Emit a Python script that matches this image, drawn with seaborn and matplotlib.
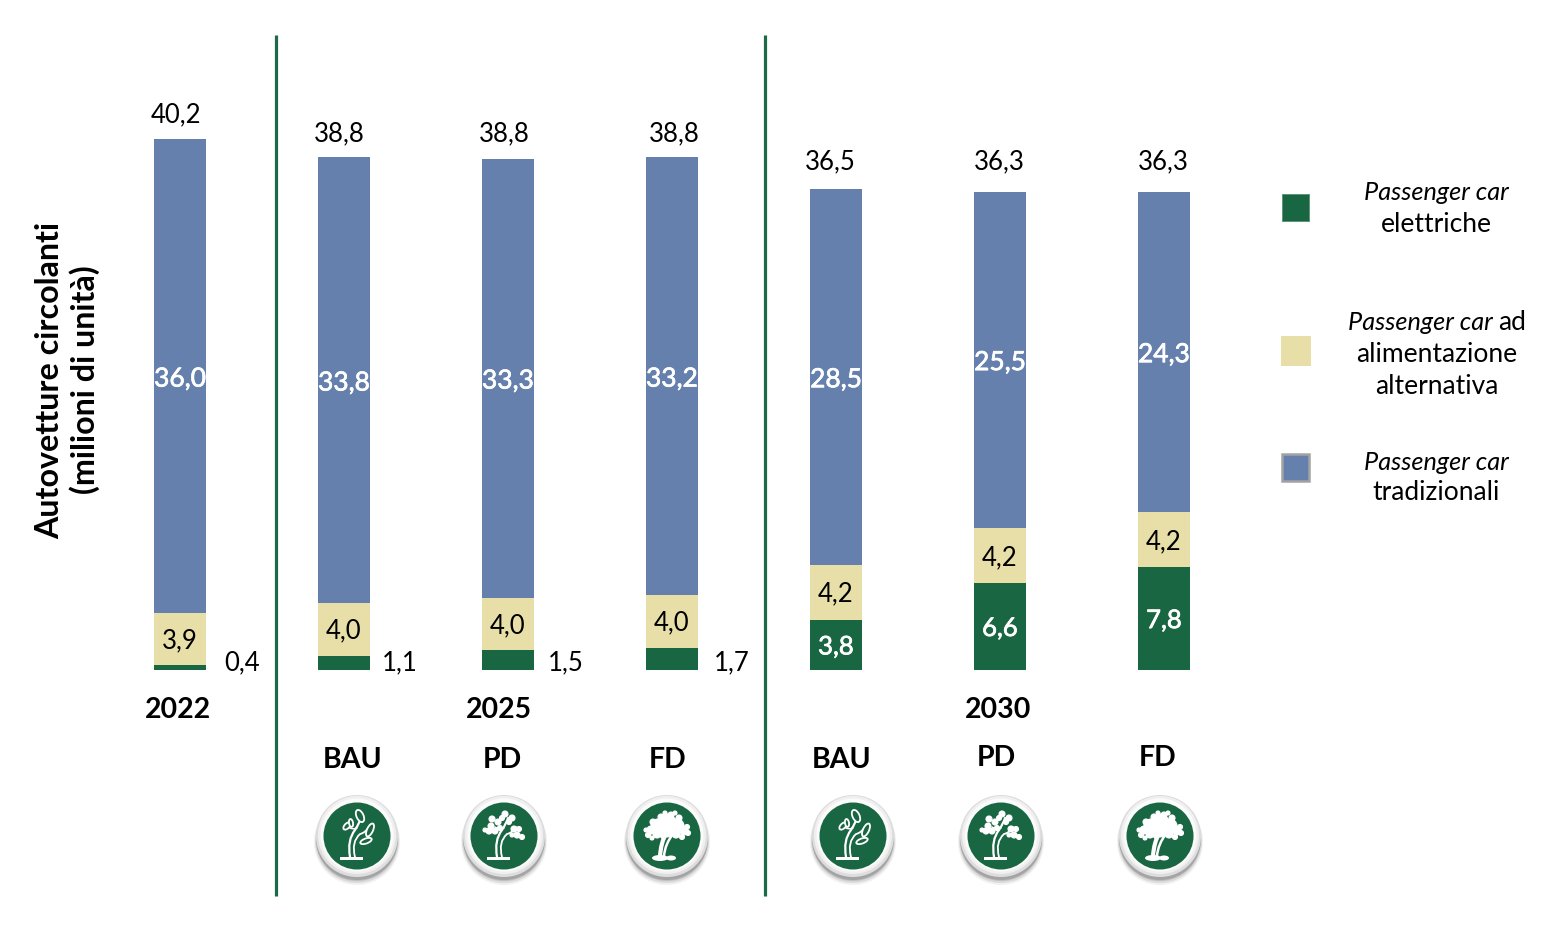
import matplotlib
matplotlib.use("Agg")
import matplotlib.pyplot as plt
import matplotlib.patheffects as pe
from matplotlib.patches import Circle, Ellipse, PathPatch, Rectangle
from matplotlib.path import Path
import pandas as pd
import seaborn as sns

# values (milioni di unita)
scenari = ["2022", "2025 BAU", "2025 PD", "2025 FD", "2030 BAU", "2030 PD", "2030 FD"]
elettriche = [0.4, 1.1, 1.5, 1.7, 3.8, 6.6, 7.8]
alternativa = [3.9, 4.0, 4.0, 4.0, 4.2, 4.2, 4.2]
tradizionali = [36.0, 33.8, 33.3, 33.2, 28.5, 25.5, 24.3]
totali = [40.2, 38.8, 38.8, 38.8, 36.5, 36.3, 36.3]

GREEN = "#196642"
KHAKI = "#E8DFA8"
BLUE = "#6580AC"
LINE = "#1B6B48"

W, H = 1548, 934
PX = 13.18  # px per unit
DOWN = 2 / PX  # labels sit a bit below the centre of their segment
THICK = [pe.withStroke(linewidth=0.5, foreground="white")]


def fmt(v):
    return f"{v:.1f}".replace(".", ",")


sns.set_theme(style="white")
plt.rcParams["font.family"] = ["Lato", "DejaVu Sans"]

df = pd.DataFrame({"scenario": scenari, "elettriche": elettriche,
                   "alternativa": alternativa, "tradizionali": tradizionali})
df["base_alt"] = df["elettriche"]
df["base_trad"] = df["elettriche"] + df["alternativa"]

fig = plt.figure(figsize=(W / 100, H / 100), dpi=100)
ax = fig.add_axes([0, 0, 1, 1])

bar_kw = dict(data=df, x="scenario", saturation=1, width=0.32, linewidth=0, ax=ax)
sns.barplot(y="elettriche", color=GREEN, **bar_kw)
sns.barplot(y="alternativa", bottom=df["base_alt"], color=KHAKI, **bar_kw)
sns.barplot(y="tradizionali", bottom=df["base_trad"], color=BLUE, **bar_kw)

# bars: 164 px apart starting at 180, baseline at y=670
ax.set_xlim(-180 / 164, (W - 180) / 164)
ax.set_ylim(-(H - 670) / PX, 670 / PX)
ax.axis("off")

for i in range(len(scenari)):
    ax.text(i, df["base_trad"][i] + tradizionali[i] / 2 - DOWN * 1.5, fmt(tradizionali[i]), color="white",
            ha="center", va="center", fontsize=19, path_effects=THICK)
    ax.text(i, df["base_alt"][i] + alternativa[i] / 2 - DOWN, fmt(alternativa[i]), color="black",
            ha="center", va="center", fontsize=18.5)
    if i >= 4:
        ax.text(i, elettriche[i] / 2 - DOWN, fmt(elettriche[i]), color="white",
                ha="center", va="center", fontsize=18.5, path_effects=THICK)

# overlay in pixel coordinates for annotations and icons
ov = fig.add_axes([0, 0, 1, 1])
ov.set_xlim(0, W)
ov.set_ylim(H, 0)
ov.axis("off")
ov.patch.set_alpha(0)

top_pos = [(175.5, 115), (339.5, 134), (504.5, 134), (674.5, 134), (830.5, 162), (999.5, 162), (1163.5, 162)]
for (x, y), v in zip(top_pos, totali):
    ov.text(x, y, fmt(v), ha="center", va="center", fontsize=18.5, color="black")

side_pos = [(242, 663), (399.5, 663), (565.5, 663), (731.5, 663)]
for (x, y), v in zip(side_pos, elettriche[:4]):
    ov.text(x, y, fmt(v), ha="center", va="center", fontsize=18.5, color="black")

for x in [276, 765]:
    ov.plot([x, x], [35, 896], color=LINE, lw=2.3, solid_capstyle="butt")

for x, y, s in [(178, 710, "2022"), (498.5, 710, "2025"), (998.5, 710, "2030"),
                (352.5, 760, "BAU"), (502.5, 760, "PD"), (667.5, 760, "FD"),
                (842, 760, "BAU"), (996.5, 758, "PD"), (1158, 758, "FD")]:
    ov.text(x, y, s, ha="center", va="center", fontsize=20.5, fontweight="bold", color="black")

ov.text(68, 380, "Autovetture circolanti\n(milioni di unità)", rotation=90, ha="center", va="center",
        multialignment="center", fontsize=23.2, fontweight="bold", color="black", linespacing=1.2)

# legend
ov.add_patch(Rectangle((1282, 194), 27, 27, facecolor=GREEN, edgecolor="#5E9479", lw=0.7))
ov.add_patch(Rectangle((1281, 336), 30, 30, facecolor=KHAKI, edgecolor="none"))
ov.add_patch(Rectangle((1282, 454), 27, 27, facecolor=BLUE, edgecolor="#A3A3A3", lw=1.8))

LEG = 19
ITA = 18.2
ov.text(1436.5, 193, "Passenger car", style="italic", ha="center", va="center", fontsize=ITA, color="black")
ov.text(1436.5, 224, "elettriche", ha="center", va="center", fontsize=LEG, color="black")
ov.text(1493, 323, "Passenger car", style="italic", ha="right", va="center", fontsize=ITA, color="black")
ov.text(1498, 323, "ad", ha="left", va="center", fontsize=LEG, color="black")
ov.text(1436.5, 355, "alimentazione", ha="center", va="center", fontsize=LEG, color="black")
ov.text(1436.5, 386, "alternativa", ha="center", va="center", fontsize=LEG, color="black")
ov.text(1436.5, 462, "Passenger car", style="italic", ha="center", va="center", fontsize=ITA, color="black")
ov.text(1436.5, 493, "tradizionali", ha="center", va="center", fontsize=LEG, color="black")


# tree icons
def curve(cx, cy, pts, lw):
    verts = [(cx + px, cy + py) for px, py in pts]
    codes = [Path.MOVETO] + [Path.CURVE3] * (len(verts) - 1)
    ov.add_patch(PathPatch(Path(verts, codes), facecolor="none", edgecolor="white", lw=lw, capstyle="round", zorder=6))


def leaf(cx, cy, dx, dy, w, h, ang, filled=False):
    ov.add_patch(Ellipse((cx + dx, cy + dy), w, h, angle=ang, facecolor="white" if filled else GREEN,
                         edgecolor="white", lw=0.8 if filled else 1.3, zorder=7))


def icon(cx, cy, kind):
    for r, off, a in [(43, 6, 0.08), (42, 5, 0.14), (41, 4, 0.2), (41, 3, 0.25)]:
        ov.add_patch(Circle((cx, cy + off), r, facecolor="#555555", edgecolor="none", alpha=a, zorder=3))
    ov.add_patch(Circle((cx, cy), 41, facecolor="#DDDDDD", edgecolor="none", zorder=4))
    ov.add_patch(Circle((cx, cy - 1), 39, facecolor="#F0F0F0", edgecolor="none", zorder=4))
    ov.add_patch(Circle((cx, cy - 1), 36.5, facecolor="#FBFBFB", edgecolor="none", zorder=4))
    ov.add_patch(Circle((cx, cy), 33.5, facecolor=GREEN, edgecolor="none", zorder=5))
    if kind < 2:
        ov.add_patch(Rectangle((cx - 17, cy + 21), 23, 3, facecolor="white", edgecolor="none", zorder=6))
        curve(cx, cy, [(-7, 21), (-10, 4), (-2, -6), (3, -14), (4, -18)], 1.6)
        curve(cx, cy, [(-2, 21), (-6, 6), (3, -2), (8, -3), (12, -9)], 1.3)
        curve(cx, cy, [(0, -8), (-4, -6), (-9, -9)], 1.1)
    if kind == 0:
        leaf(cx, cy, 3, -20, 7, 13, -25)
        leaf(cx, cy, -10, -10, 5, 9, 45)
        leaf(cx, cy, -6, -13, 4, 8, -10)
        leaf(cx, cy, 13, -6, 6, 14, 25)
        leaf(cx, cy, 9, 5, 5, 12, 70)
    elif kind == 1:
        for dx, dy, r in [(1, -22, 3), (-12, -17, 3), (-13, -10, 3), (-6, -14, 3), (-2, -18, 2.5), (8, -18, 3),
                          (-15, -5, 3), (-9, -5, 3), (-4, -8, 2.5), (5, -14, 2.5), (10, -7, 3), (15, -7, 2.5),
                          (13, -1, 3), (18, 1, 2.5), (8, -1, 2), (-19, -6, 2)]:
            leaf(cx, cy, dx, dy, r * 2, r * 2, 0, filled=True)
    else:
        curve(cx, cy, [(-7, 20), (-6, 6), (-1, -2)], 3)
        curve(cx, cy, [(-3, 20), (-2, 8), (6, -2)], 1.8)
        ov.add_patch(Ellipse((cx - 7, cy + 22), 16, 6, facecolor="white", edgecolor="none", zorder=6))
        ov.add_patch(Ellipse((cx + 4, cy + 22), 10, 5, facecolor="white", edgecolor="none", zorder=6))
        for dx, dy, r in [(0, -13, 9), (-9, -10, 7), (10, -10, 7), (-16, -6, 4), (17, -5, 4), (-10, -2, 4),
                          (9, -2, 4), (0, -5, 6), (-6, -19, 3), (4, -21, 3), (12, -18, 3), (-14, -14, 3),
                          (-21, -6, 2), (-19, -1, 2.5), (21, -3, 2.5), (20, -9, 2.5), (-2, -23, 2), (-4, 0, 2.5),
                          (15, 1, 2.5), (-15, 2, 2), (8, -23, 2)]:
            leaf(cx, cy, dx, dy, r * 2, r * 2, 0, filled=True)


for cx, k in [(357, 0), (504, 1), (667, 2), (853, 0), (1001, 1), (1160, 2)]:
    icon(cx, 836, k)

fig.savefig("out.png", dpi=100, facecolor="white")
